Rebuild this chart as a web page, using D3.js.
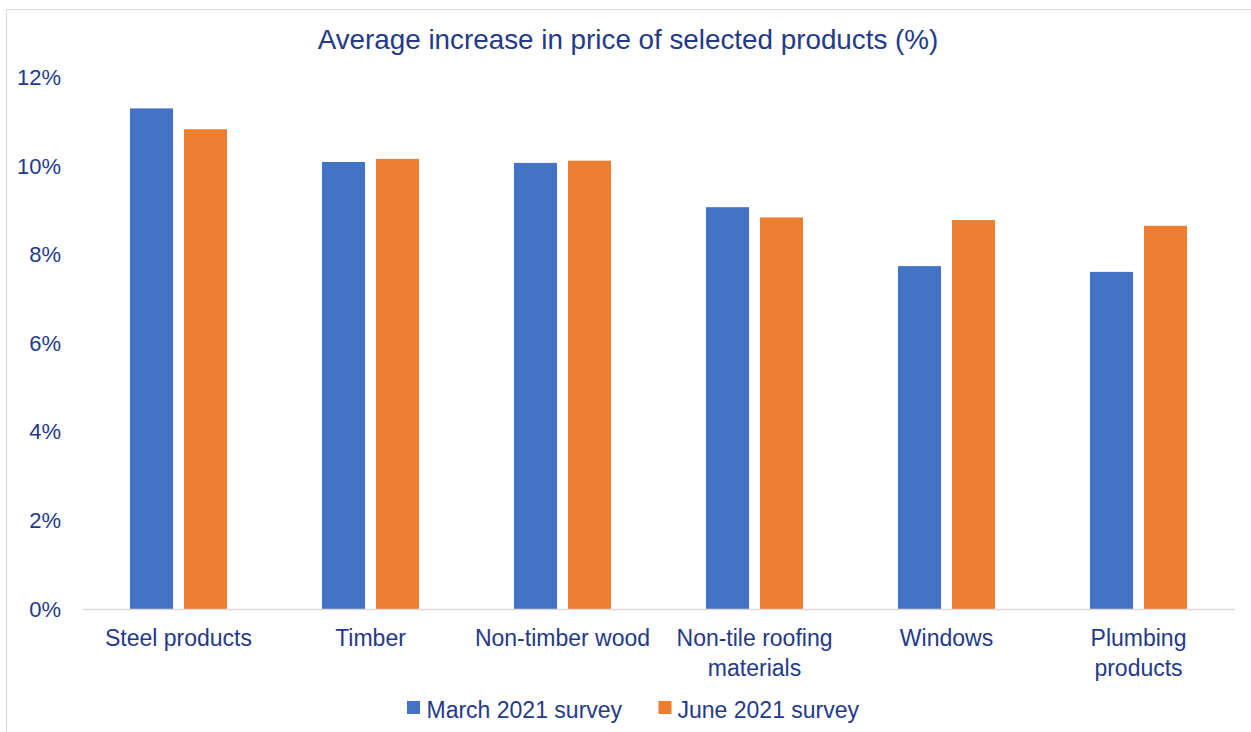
<!DOCTYPE html>
<html><head><meta charset="utf-8">
<script src="https://cdn.jsdelivr.net/npm/d3@7"></script>
<style>body{margin:0;background:#fff}svg{display:block}text{font-family:"Liberation Sans",Arial,sans-serif;fill:#24398a}</style>
</head><body>
<script>
const categories = [["Steel products"],["Timber"],["Non-timber wood"],["Non-tile roofing","materials"],["Windows"],["Plumbing","products"]];
const seriesNames = ["March 2021 survey","June 2021 survey"];
const march = [11.30, 10.09, 10.07, 9.07, 7.74, 7.61];
const june = [10.83, 10.16, 10.12, 8.84, 8.78, 8.65];
const yTicks = [0,2,4,6,8,10,12];
const colors = ["#4472C4","#ED7D31"];

const W=1251,H=732;
const svg=d3.select("body").append("svg").attr("width",W).attr("height",H);
svg.append("rect").attr("x",6.5).attr("y",9.5).attr("width",W+10).attr("height",H+10).attr("fill","none").attr("stroke","#d9d9d9");

const x=d3.scaleBand().domain(d3.range(categories.length)).range([82.5,1234.5]);
const y=d3.scaleLinear().domain([0,12]).range([609,77.4]);
const barW=43, gap=11;

svg.append("text").attr("x",628).attr("y",49).attr("text-anchor","middle").attr("font-size",27.8).text("Average increase in price of selected products (%)");

const yAxis=svg.append("g").attr("transform","translate(61,0)").call(d3.axisLeft(y).tickValues(yTicks).tickFormat(d=>d+"%").tickSize(0).tickPadding(0));
yAxis.select(".domain").remove();
yAxis.selectAll("text").attr("font-size",22).attr("font-family","Liberation Sans, Arial, sans-serif").attr("fill","#24398a");

[march,june].forEach((vals,si)=>{
  svg.append("g").selectAll("rect").data(vals).join("rect")
    .attr("x",(d,i)=>x(i)+x.bandwidth()/2-barW-gap/2+si*(barW+gap))
    .attr("y",d=>y(d)).attr("width",barW).attr("height",d=>y(0)-y(d))
    .attr("fill",colors[si]);
});

svg.append("line").attr("x1",82.5).attr("x2",1234.5).attr("y1",609.5).attr("y2",609.5).attr("stroke","#d9d9d9").attr("stroke-width",1.5);

const cat=svg.append("g").selectAll("text").data(categories).join("text")
  .attr("x",(d,i)=>x(i)+x.bandwidth()/2).attr("y",646).attr("text-anchor","middle").attr("font-size",23);
cat.selectAll("tspan").data(d=>d).join("tspan").attr("x",function(){return this.parentNode.getAttribute("x");}).attr("dy",(d,j)=>j?30:0).text(d=>d);

const leg=[{x:407,tx:426.5},{x:658.5,tx:677.5}];
seriesNames.forEach((n,i)=>{
  svg.append("rect").attr("x",leg[i].x).attr("y",701).attr("width",13).attr("height",13).attr("fill",colors[i]);
  svg.append("text").attr("x",leg[i].tx).attr("y",718).attr("font-size",23).text(n);
});
</script>
</body></html>
